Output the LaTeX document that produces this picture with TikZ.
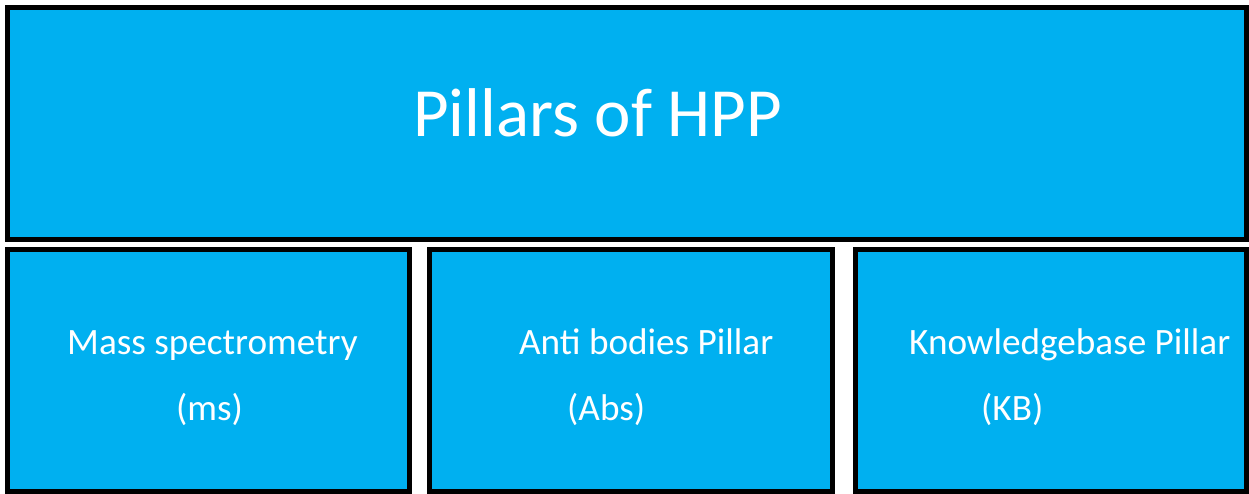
\documentclass[tikz,border=0pt]{standalone}
\usepackage{fontspec}
\setmainfont{Carlito}
\definecolor{pillarblue}{HTML}{00B0F0}
\begin{document}
\begin{tikzpicture}[x=1pt,y=-1pt,
  pbox/.style={draw=black,line width=5pt,fill=pillarblue},
  ptext/.style={anchor=base west,inner sep=0pt,text=white,font=\fontsize{37.2}{44}\selectfont},
  ttext/.style={anchor=base west,inner sep=0pt,text=white,font=\fontsize{69}{82}\selectfont}]
\useasboundingbox (0,0) rectangle (1249,494);
\path[pbox] (7.5,7.5) rectangle (1246.5,239.5);
\path[pbox] (7.5,249.5) rectangle (409.5,491.5);
\path[pbox] (429.5,249.5) rectangle (832.5,491.5);
\path[pbox] (855.5,249.5) rectangle (1246.5,491.5);
\node[ttext] (title) at (413,137) {Pillars of HPP};
\node[ptext] (ms) at (67,354) {Mass spectrometry};
\node[ptext] (msab) at (176,420) {(ms)};
\node[ptext] (ab) at (519,354) {Anti bodies Pillar};
\node[ptext] (abab) at (567,420) {(Abs)};
\node[ptext] (kb) at (909,354) {Knowledgebase Pillar};
\node[ptext] (kbab) at (981,420) {(KB)};
\end{tikzpicture}
\end{document}
